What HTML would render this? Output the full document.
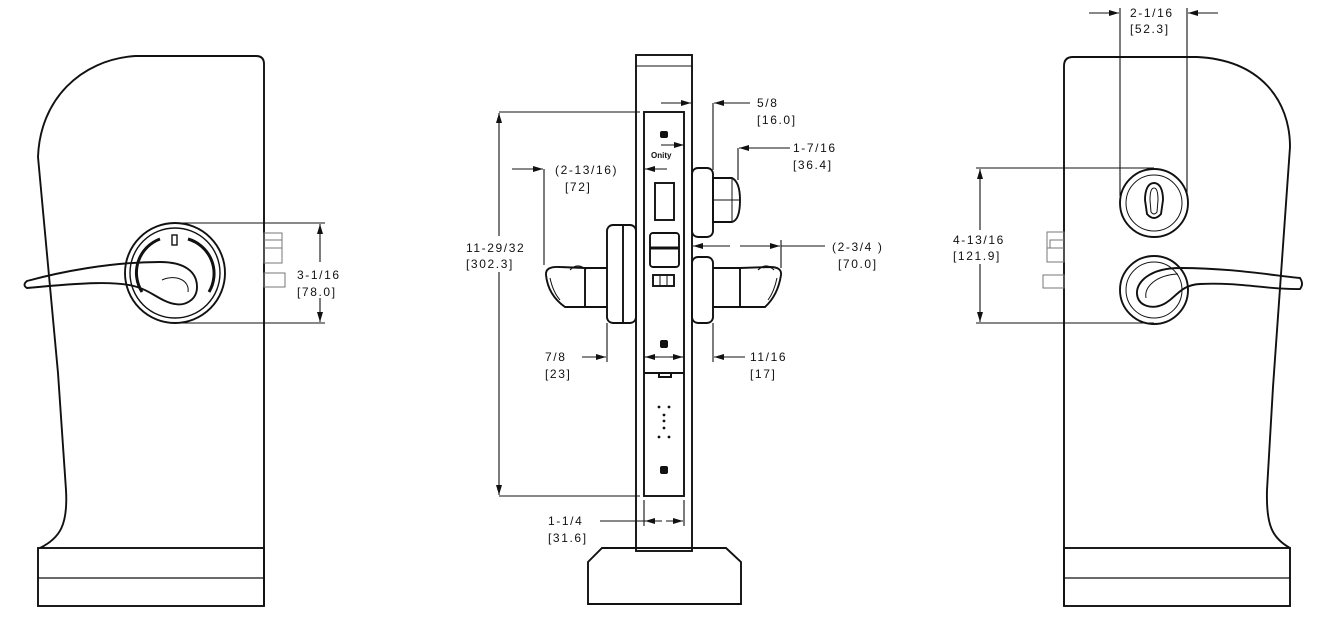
<!DOCTYPE html>
<html><head><meta charset="utf-8"><style>
html,body{margin:0;padding:0;background:#fff;}
svg{display:block;}
text{font-family:"Liberation Sans",sans-serif;font-size:12px;letter-spacing:1.6px;fill:#111;}
</style></head><body>
<svg width="1328" height="619" viewBox="0 0 1328 619" xmlns="http://www.w3.org/2000/svg">
<defs>
<marker id="a" viewBox="0 0 10 6" refX="10" refY="3" markerWidth="10" markerHeight="6" orient="auto" markerUnits="userSpaceOnUse"><path d="M0,0 L10,3 L0,6 Z" fill="#111"/></marker>
</defs>
<g fill="none" stroke="#111" stroke-width="1.9">
<!-- LEFT DOOR -->
<path d="M135,56 L256,56 Q264,56 264,64 L264,606"/>
<path d="M135,56 C80,60 40,100 38,157 L58,373 L66,490 C68,525 60,538 40,548"/>
<rect x="38" y="548" width="226" height="58"/>
<line x1="38" y1="578" x2="264" y2="578" stroke-width="1.2"/>
<circle cx="175" cy="273" r="50"/>
<circle cx="175" cy="273" r="45" stroke-width="1.4"/>
<path d="M160,239 A36,36 0 0 0 142,292" stroke-width="3"/>
<path d="M188,239 A36,36 0 0 1 209,292" stroke-width="3"/>
<rect x="172" y="235" width="5" height="10" stroke-width="1.4"/>
<path d="M27,281 C60,272 110,262 160,262 C185,262 197,272 197,287 C197,300 185,306 175,304 C162,302 152,292 140,288 C120,280 80,283 27,288 Q22,285 27,281 Z"/>
<path d="M162,280 C175,274 190,280 188,292" stroke-width="1"/>
<g stroke-width="1" stroke="#777"><rect x="264" y="233" width="18" height="30"/><line x1="264" y1="248" x2="282" y2="248"/><line x1="264" y1="240" x2="282" y2="240"/><rect x="264" y="273" width="21" height="14"/></g>
<g stroke-width="1.1"><line x1="175" y1="223" x2="325" y2="223"/><line x1="175" y1="323" x2="325" y2="323"/>
<line x1="320" y1="262" x2="320" y2="224" marker-end="url(#a)"/><line x1="320" y1="298" x2="320" y2="322" marker-end="url(#a)"/></g>

<!-- CENTER -->
<rect x="636" y="55" width="56" height="496"/>
<line x1="636" y1="66" x2="692" y2="66" stroke-width="1"/>
<rect x="644" y="112" width="40" height="384"/>
<line x1="644" y1="357" x2="684" y2="357" stroke-width="1"/>
<line x1="644" y1="373" x2="684" y2="373"/>
<path d="M659,373 v4 h12 v-4" stroke-width="2"/>
<path d="M602,548 L726,548 L741,562 L741,604 L588,604 L588,562 Z"/>
<rect x="655" y="183" width="19" height="37"/>
<rect x="650" y="233" width="29" height="34" rx="3"/>
<line x1="650" y1="248" x2="679" y2="248" stroke-width="3"/>
<rect x="653" y="275" width="21" height="11"/><line x1="660" y1="275" x2="660" y2="286" stroke-width="1"/><line x1="667" y1="275" x2="667" y2="286" stroke-width="1"/>
<rect x="607" y="225" width="29" height="98" rx="6"/>
<line x1="623" y1="226" x2="623" y2="322"/>
<path d="M607,268 L585,268 L585,307 L607,307"/>
<path d="M585,268 L560,267 Q545,266 546,275 Q548,295 565,307 L585,307"/>
<path d="M570,270 Q578,262 586,270" stroke-width="1.2"/>
<path d="M550,278 Q553,292 560,300" stroke-width="1"/>
<rect x="692" y="168" width="21" height="69" rx="6"/>
<path d="M713,178 L732,178 Q740,182 740,200 Q740,220 732,222 L713,222 Z"/>
<line x1="732" y1="178" x2="732" y2="222" stroke-width="1"/><line x1="713" y1="200" x2="740" y2="200" stroke-width="1"/>
<rect x="692" y="257" width="21" height="66" rx="6"/>
<path d="M713,268 L740,268 L740,307 L713,307"/>
<path d="M740,268 L770,267 Q782,267 781,275 Q778,295 765,307 L740,307"/>
<path d="M758,270 Q766,262 774,270" stroke-width="1.2"/>
<path d="M777,278 Q774,292 768,300" stroke-width="1"/>
<g stroke-width="1.1">
<line x1="499" y1="112" x2="640" y2="112"/><line x1="499" y1="496" x2="640" y2="496"/>
<line x1="499" y1="236" x2="499" y2="113" marker-end="url(#a)"/><line x1="499" y1="272" x2="499" y2="495" marker-end="url(#a)"/>
<line x1="661" y1="103" x2="691" y2="103" marker-end="url(#a)"/>
<line x1="750" y1="103" x2="714" y2="103" marker-end="url(#a)"/><line x1="713" y1="103" x2="713" y2="170"/>
<line x1="790" y1="148" x2="739" y2="148" marker-end="url(#a)"/><line x1="738" y1="148" x2="738" y2="180"/>
<line x1="512" y1="169" x2="543" y2="169" marker-end="url(#a)"/><line x1="544" y1="169" x2="544" y2="265"/>
<line x1="667" y1="169" x2="645" y2="169" marker-end="url(#a)"/>
<line x1="661" y1="145" x2="684" y2="145" marker-end="url(#a)"/>
<line x1="730" y1="246" x2="693" y2="246" marker-end="url(#a)"/><line x1="740" y1="246" x2="780" y2="246" marker-end="url(#a)"/><line x1="781" y1="240" x2="781" y2="268"/><line x1="781" y1="246" x2="825" y2="246"/>
<line x1="607" y1="323" x2="607" y2="362"/><line x1="582" y1="357" x2="606" y2="357" marker-end="url(#a)"/>
<line x1="713" y1="323" x2="713" y2="362"/><line x1="745" y1="357" x2="714" y2="357" marker-end="url(#a)"/>
<line x1="658" y1="357" x2="645" y2="357" marker-end="url(#a)"/><line x1="670" y1="357" x2="683" y2="357" marker-end="url(#a)"/>
<line x1="644" y1="500" x2="644" y2="526"/><line x1="684" y1="500" x2="684" y2="526"/>
<line x1="600" y1="521" x2="645" y2="521"/><line x1="662" y1="521" x2="645" y2="521" marker-end="url(#a)"/><line x1="666" y1="521" x2="683" y2="521" marker-end="url(#a)"/>
</g>

<!-- RIGHT DOOR -->
<path d="M1064,606 L1064,66 Q1064,57 1073,57 L1197,57 C1260,60 1290,100 1290,147 L1273,387 L1267,490 C1266,525 1272,538 1290,548"/>
<rect x="1064" y="548" width="226" height="58"/>
<line x1="1064" y1="578" x2="1290" y2="578" stroke-width="1.2"/>
<circle cx="1154" cy="203" r="34"/><circle cx="1154" cy="203" r="28" stroke-width="1"/>
<path d="M1154,183 C1148,183 1145,190 1145,200 L1147,214 Q1154,222 1161,214 L1163,200 C1163,190 1160,183 1154,183 Z"/>
<path d="M1154,188 C1151,188 1150,193 1150,200 L1151,212 Q1154,216 1157,212 L1158,200 C1158,193 1157,188 1154,188 Z" stroke-width="1"/>
<circle cx="1154" cy="290" r="34"/><circle cx="1154" cy="290" r="28" stroke-width="1"/>
<path d="M1300,278 C1270,275 1230,268 1180,268 C1150,268 1136,282 1137,294 C1138,306 1152,310 1164,304 C1176,298 1180,285 1200,284 C1240,282 1270,290 1300,289 Q1304,284 1300,278 Z"/>
<path d="M1178,274 C1156,275 1144,287 1146,298" stroke-width="1"/>
<g stroke-width="1" stroke="#777"><rect x="1047" y="232" width="17" height="30"/><line x1="1047" y1="248" x2="1064" y2="248"/><rect x="1050" y="240" width="14" height="8"/><rect x="1043" y="275" width="21" height="13"/></g>
<g stroke-width="1.1">
<line x1="1120" y1="8" x2="1120" y2="196"/><line x1="1187" y1="8" x2="1187" y2="196"/>
<line x1="1089" y1="13" x2="1119" y2="13" marker-end="url(#a)"/><line x1="1218" y1="13" x2="1188" y2="13" marker-end="url(#a)"/>
<line x1="976" y1="168" x2="1154" y2="168"/><line x1="976" y1="323" x2="1154" y2="323"/>
<line x1="980" y1="230" x2="980" y2="169" marker-end="url(#a)"/><line x1="980" y1="264" x2="980" y2="322" marker-end="url(#a)"/>
</g>
</g>
<g fill="#111">
<rect x="660" y="131" width="8" height="7" rx="2"/><rect x="660" y="340" width="8" height="8" rx="2"/><rect x="660" y="466" width="8" height="8" rx="2"/>
<circle cx="659" cy="407" r="1.4"/><circle cx="669" cy="407" r="1.4"/><circle cx="664" cy="415" r="1.4"/><circle cx="664" cy="421" r="1.4"/><circle cx="664" cy="428" r="1.4"/><circle cx="659" cy="437" r="1.4"/><circle cx="669" cy="437" r="1.4"/>
</g>
<text x="651" y="158" style="font-size:8px;letter-spacing:0;font-weight:bold">Onity</text>
<text x="297" y="279">3-1/16</text><text x="297" y="296">[78.0]</text>
<text x="466" y="252">11-29/32</text><text x="466" y="268">[302.3]</text>
<text x="757" y="107">5/8</text><text x="757" y="124">[16.0]</text>
<text x="793" y="152">1-7/16</text><text x="793" y="169">[36.4]</text>
<text x="555" y="174">(2-13/16)</text><text x="565" y="191">[72]</text>
<text x="832" y="251">(2-3/4 )</text><text x="838" y="268">[70.0]</text>
<text x="545" y="361">7/8</text><text x="545" y="378">[23]</text>
<text x="750" y="361">11/16</text><text x="750" y="378">[17]</text>
<text x="548" y="525">1-1/4</text><text x="548" y="542">[31.6]</text>
<text x="1130" y="17">2-1/16</text><text x="1130" y="33">[52.3]</text>
<text x="953" y="244">4-13/16</text><text x="953" y="260">[121.9]</text>
</svg>
</body></html>
